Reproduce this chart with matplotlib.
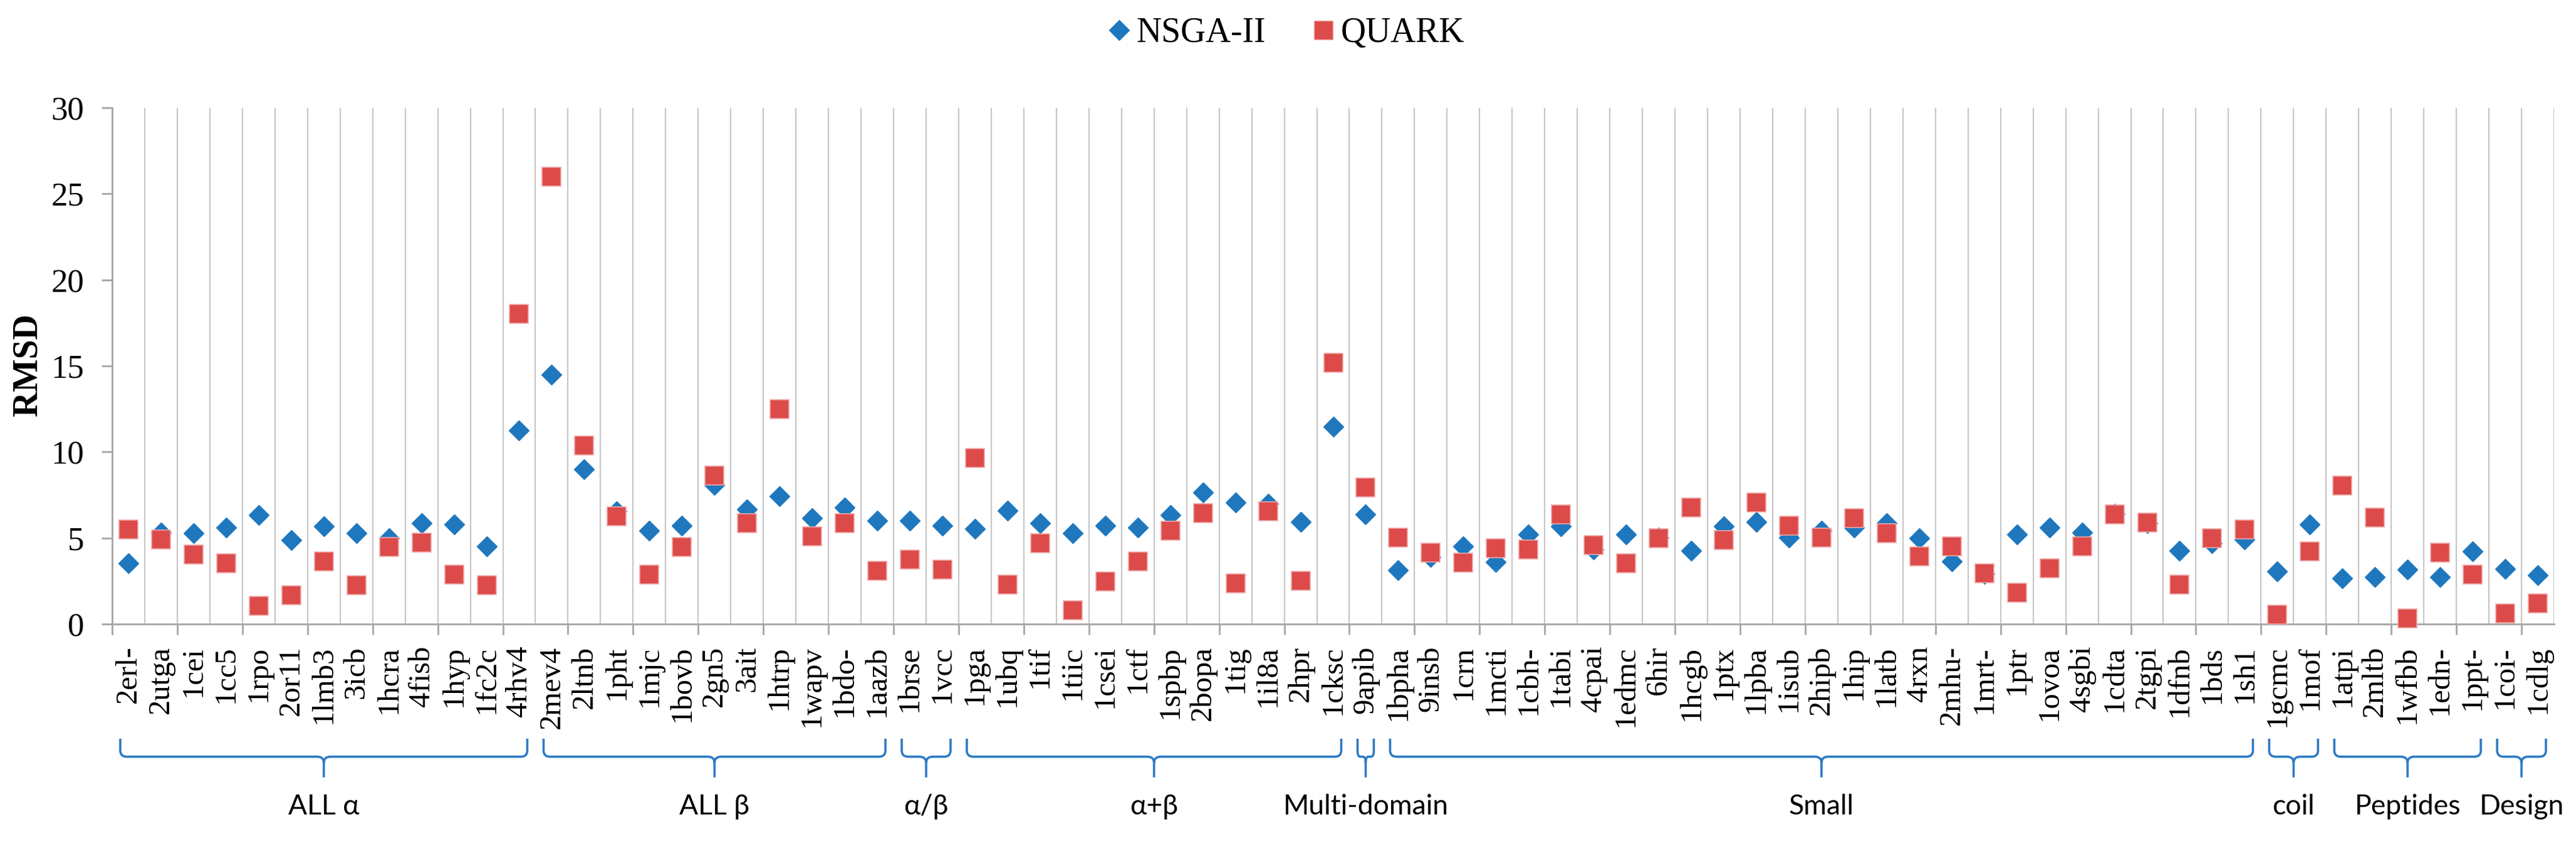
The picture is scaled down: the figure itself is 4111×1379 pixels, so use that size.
import matplotlib
matplotlib.use("Agg")
import matplotlib.pyplot as plt
import numpy as np
from matplotlib.path import Path
from matplotlib.patches import PathPatch
from matplotlib.lines import Line2D

# protein targets (x categories)
proteins = ["2erl-", "2utga", "1cei", "1cc5", "1rpo", "2or11", "1lmb3", "3icb", "1hcra", "4fisb",
            "1hyp", "1fc2c", "4rhv4", "2mev4", "2ltnb", "1pht", "1mjc", "1bovb", "2gn5", "3ait",
            "1htrp", "1wapv", "1bdo-", "1aazb", "1brse", "1vcc", "1pga", "1ubq", "1tif", "1tiic",
            "1csei", "1ctf", "1spbp", "2bopa", "1tig", "1il8a", "2hpr", "1cksc", "9apib", "1bpha",
            "9insb", "1crn", "1mcti", "1cbh-", "1tabi", "4cpai", "1edmc", "6hir", "1hcgb", "1ptx",
            "1lpba", "1isub", "2hipb", "1hip", "1latb", "4rxn", "2mhu-", "1mrt-", "1ptr", "1ovoa",
            "4sgbi", "1cdta", "2tgpi", "1dfnb", "1bds", "1sh1", "1gcmc", "1mof", "1atpi", "2mltb",
            "1wfbb", "1edn-", "1ppt-", "1coi-", "1cdlg"]

# RMSD values
nsga = [3.53, 5.30, 5.27, 5.62, 6.32, 4.88, 5.69, 5.27, 4.99, 5.85,
        5.78, 4.50, 11.24, 14.49, 8.99, 6.55, 5.43, 5.73, 8.10, 6.66,
        7.43, 6.15, 6.78, 6.01, 6.01, 5.73, 5.55, 6.59, 5.85, 5.27,
        5.73, 5.62, 6.32, 7.66, 7.06, 7.00, 5.92, 11.47, 6.38, 3.13,
        3.88, 4.50, 3.60, 5.20, 5.69, 4.34, 5.20, 5.04, 4.27, 5.69,
        5.92, 5.04, 5.43, 5.62, 5.85, 4.99, 3.65, 2.90, 5.20, 5.62,
        5.32, 6.39, 5.85, 4.27, 4.69, 4.93, 3.07, 5.78, 2.65, 2.72,
        3.18, 2.72, 4.22, 3.22, 2.83]

quark = [5.50, 4.90, 4.04, 3.53, 1.04, 1.67, 3.65, 2.25, 4.46, 4.74,
         2.88, 2.25, 18.04, 26.00, 10.38, 6.27, 2.88, 4.46, 8.64, 5.85,
         12.47, 5.11, 5.85, 3.11, 3.76, 3.18, 9.64, 2.30, 4.69, 0.81,
         2.48, 3.65, 5.43, 6.43, 2.37, 6.55, 2.53, 15.18, 7.94, 5.04,
         4.16, 3.58, 4.39, 4.34, 6.36, 4.57, 3.53, 4.99, 6.78, 4.88,
         7.08, 5.73, 5.04, 6.15, 5.27, 3.95, 4.53, 2.95, 1.83, 3.25,
         4.53, 6.36, 5.90, 2.30, 4.97, 5.50, 0.55, 4.22, 8.06, 6.20,
         0.33, 4.15, 2.88, 0.62, 1.21]

# structural classes and how many targets each holds
group_names = ["ALL \u03b1", "ALL \u03b2", "\u03b1/\u03b2", "\u03b1+\u03b2", "Multi-domain",
               "Small", "coil", "Peptides", "Design"]
group_sizes = [13, 11, 2, 12, 1, 27, 2, 5, 2]

serif = ["Liberation Serif", "DejaVu Serif"]
sans = ["Lato", "Noto Sans", "DejaVu Sans"]
plt.rcParams["font.family"] = serif

blue = "#1F78BE"
red = "#DC4B4A"
brace_col = "#2E7BC4"

fig = plt.figure(figsize=(41.11, 13.79), dpi=100)
ax = fig.add_axes([0.04354, 0.27774, 0.94795, 0.59753])

n = len(proteins)
xc = np.arange(n) + 0.5

# vertical gridlines at category boundaries
for b in range(1, n + 1):
    ax.axvline(b, color="#C8C8C8", lw=1.6, zorder=0)

ax.plot(xc, nsga, linestyle="none", marker="D", ms=16.5, color=blue, mec=blue,
        clip_on=False, zorder=3)
ax.plot(xc, quark, linestyle="none", marker="s", ms=21.5, color=red, mec="#F0A8A8",
        mew=1.2, clip_on=False, zorder=4)

ax.set_xlim(0, n)
ax.set_ylim(0, 30)
ax.set_yticks(range(0, 31, 5))
for s in ["top", "right"]:
    ax.spines[s].set_visible(False)
for s in ["left", "bottom"]:
    ax.spines[s].set_color("#A6A6A6")
    ax.spines[s].set_linewidth(2)

ax.tick_params(axis="y", length=12, width=2, color="#A6A6A6", pad=20, labelsize=38)

ax.set_xticks(xc)
ax.set_xticklabels(proteins, rotation=90, fontsize=35, va="top", ha="center")
ax.tick_params(axis="x", which="major", length=0, pad=25)
ax.set_xticks(np.arange(0, n, 2), minor=True)
ax.tick_params(axis="x", which="minor", length=12, width=2, color="#A6A6A6")

fig.text(44 / 4111, 1 - 582 / 1379, "RMSD", rotation=90, ha="center", va="center",
         fontsize=40, fontweight="bold")

# curly brackets grouping the classes
trans = ax.get_xaxis_transform()
y_top, y_h, y_tip = -0.222, -0.257, -0.297
start = 0
for name, size in zip(group_names, group_sizes):
    x0 = start + 0.25
    x1 = start + size - 0.25
    xm = (x0 + x1) / 2
    r = min(0.2, (x1 - x0) / 6)
    c = 0.012
    verts = [(x0, y_top), (x0, y_h + c), (x0, y_h), (x0 + r, y_h),
             (xm - r, y_h), (xm, y_h), (xm, y_h - c), (xm, y_tip),
             (xm, y_h - c), (xm, y_h), (xm + r, y_h),
             (x1 - r, y_h), (x1, y_h), (x1, y_h + c), (x1, y_top)]
    codes = [Path.MOVETO, Path.LINETO, Path.CURVE3, Path.CURVE3,
             Path.LINETO, Path.CURVE3, Path.CURVE3, Path.LINETO,
             Path.MOVETO, Path.CURVE3, Path.CURVE3,
             Path.LINETO, Path.CURVE3, Path.CURVE3, Path.LINETO]
    patch = PathPatch(Path(verts, codes), fill=False, edgecolor=brace_col, lw=2.6,
                      transform=trans, clip_on=False)
    ax.add_patch(patch)
    ax.text(xm, -0.354, name, transform=trans, ha="center", va="center",
            family=sans, fontsize=32)
    start += size

handles = [Line2D([], [], linestyle="none", marker="D", ms=16.5, color=blue),
           Line2D([], [], linestyle="none", marker="s", ms=21.5, color=red, mec="#F0A8A8")]
fig.legend(handles, ["NSGA-II", "QUARK"], loc="center", bbox_to_anchor=(0.499, 0.9616),
           ncol=2, frameon=False, prop={"family": serif, "size": 40},
           handlelength=0.7, handletextpad=0.15, columnspacing=1.3)

fig.savefig("out.png", dpi=100)
